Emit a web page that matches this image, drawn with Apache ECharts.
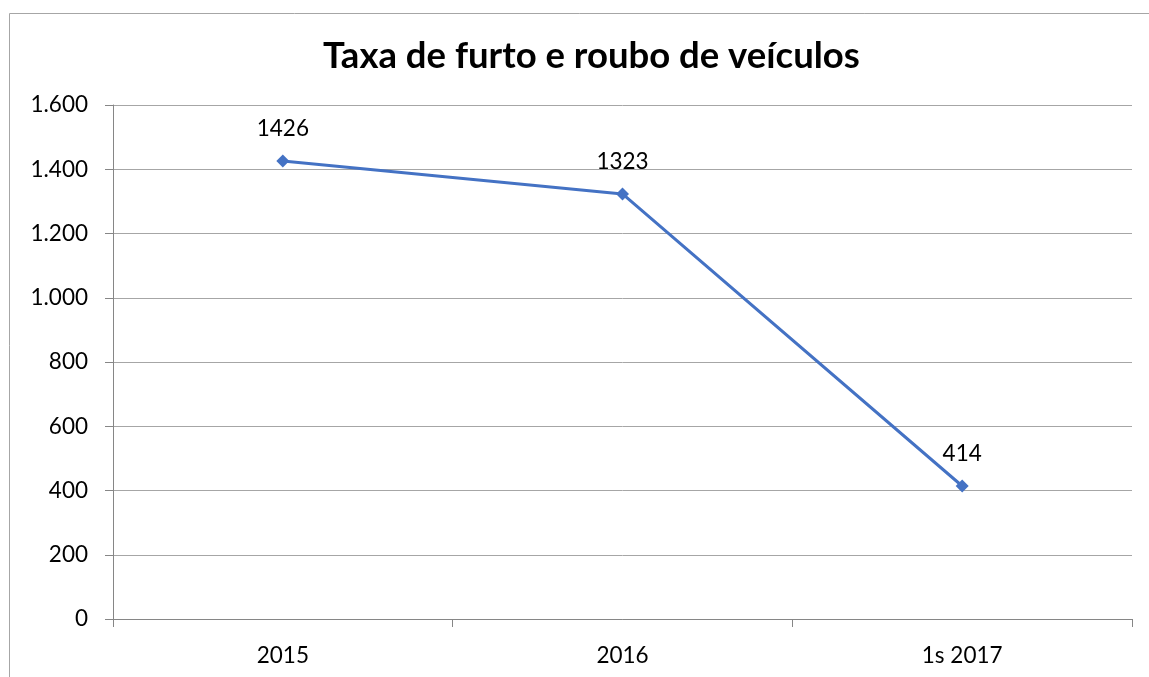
<!DOCTYPE html>
<html><head><meta charset="utf-8">
<script src="https://cdn.jsdelivr.net/npm/echarts@6/dist/echarts.min.js"></script>
<style>html,body{margin:0;padding:0;background:#fff}#c{width:1149px;height:677px}</style>
</head><body><div id="c"></div>
<script>
const categories = ['2015', '2016', '1s 2017'];
const values = [1426, 1323, 414];
const titleText = 'Taxa de furto e roubo de veículos';
const FONT = 'Lato';
const chart = echarts.init(document.getElementById('c'));
chart.setOption({
  animation: false,
  backgroundColor: '#fff',
  title: {
    text: titleText, left: 318, top: 33,
    textStyle: {fontFamily: FONT, fontWeight: 'bold', fontSize: 36.5, color: '#000'}
  },
  graphic: [{type: 'rect', shape: {x: 9.5, y: 13.5, width: 1300, height: 800},
    style: {fill: 'none', stroke: '#a6a6a6', lineWidth: 1}, silent: true}],
  grid: {left: 113, right: 17, top: 105, bottom: 58, containLabel: false},
  xAxis: {
    type: 'category', data: categories, boundaryGap: true,
    axisLine: {lineStyle: {color: '#868686', width: 1}},
    axisTick: {show: true, length: 8, lineStyle: {color: '#868686'}},
    axisLabel: {margin: 25, fontFamily: FONT, fontSize: 22.5, color: '#000'}
  },
  yAxis: {
    type: 'value', min: 0, max: 1600, interval: 200,
    axisLine: {show: true, lineStyle: {color: '#868686', width: 1}},
    axisTick: {show: true, length: 8, lineStyle: {color: '#868686'}},
    splitLine: {lineStyle: {color: '#a6a6a6', width: 1}},
    axisLabel: {margin: 25, fontFamily: FONT, fontSize: 22.5, color: '#000',
      formatter: v => String(v).replace(/\B(?=(\d{3})+(?!\d))/g, '.')}
  },
  series: [{
    type: 'line', data: values,
    symbol: 'diamond', symbolSize: 13,
    lineStyle: {color: '#4472C4', width: 3},
    itemStyle: {color: '#4472C4'},
    label: {show: true, position: 'top', distance: 14, fontFamily: FONT, fontSize: 22.5, color: '#000'}
  }]
});
</script></body></html>
